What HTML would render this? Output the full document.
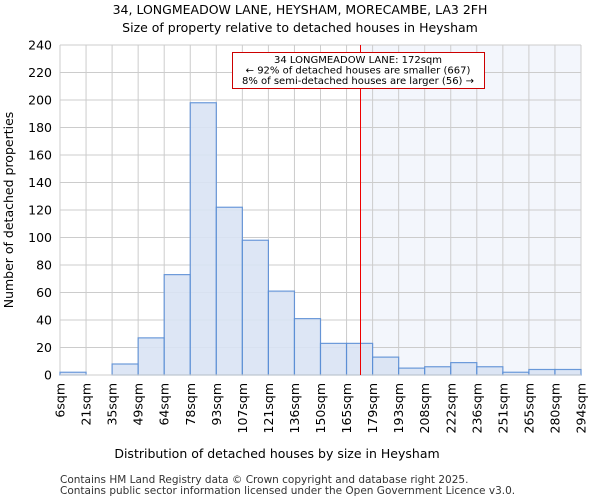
<!DOCTYPE html>
<html><head><meta charset="utf-8"><style>
body{margin:0;background:#fff;font-family:"DejaVu Sans","Liberation Sans",sans-serif}
</style></head><body>
<svg id="c" width="600" height="500" xmlns="http://www.w3.org/2000/svg" font-family="DejaVu Sans, Liberation Sans, sans-serif">
<text x="300" y="14" text-anchor="middle" font-size="12.5">34, LONGMEADOW LANE, HEYSHAM, MORECAMBE, LA3 2FH</text>
<text x="300" y="32" text-anchor="middle" font-size="12.5">Size of property relative to detached houses in Heysham</text>
<g id="plot"></g>
<text x="277" y="458" text-anchor="middle" font-size="12.5">Distribution of detached houses by size in Heysham</text>
<text transform="translate(13,210) rotate(-90)" text-anchor="middle" font-size="12.5">Number of detached properties</text>
<text x="60" y="483" font-size="10.5" fill="#333">Contains HM Land Registry data © Crown copyright and database right 2025.</text>
<text x="60" y="494" font-size="10.5" fill="#333">Contains public sector information licensed under the Open Government Licence v3.0.</text>
</svg>
<script>
const categories=["6sqm","21sqm","35sqm","49sqm","64sqm","78sqm","93sqm","107sqm","121sqm","136sqm","150sqm","165sqm","179sqm","193sqm","208sqm","222sqm","236sqm","251sqm","265sqm","280sqm","294sqm"];
const counts=[2,0,8,27,73,198,122,98,61,41,23,23,13,5,6,9,6,2,4,4];
const yTicks=[0,20,40,60,80,100,120,140,160,180,200,220,240];
const markerIndex=11.5;
const NS="http://www.w3.org/2000/svg";
const L=60,R=581,T=45,B=375,yMax=240;
const bw=(R-L)/counts.length;
const xS=i=>L+i*bw, yS=v=>B-(v/yMax)*(B-T);
const g=document.getElementById('plot');
function mk(t,a){const e=document.createElementNS(NS,t);for(const k in a)e.setAttribute(k,a[k]);g.appendChild(e);return e;}
let e;
const mx=Math.round(xS(markerIndex))+0.5;
e=mk('rect',{x:mx,y:T,width:R-mx,height:B-T,fill:"#eef2fb",opacity:0.7});


yTicks.forEach(v=>{
 e=mk('line',{x1:L,x2:R,y1:yS(v),y2:yS(v),stroke:"#cccccc"});
 
 
 e=mk('text',{x:L-8,y:yS(v)+4.5,"text-anchor":"end","font-size":"12.5"});e.textContent=v;
 
 
});
categories.forEach((c,i)=>{
 e=mk('line',{x1:xS(i),x2:xS(i),y1:T,y2:B,stroke:"#cccccc"});
 
 
 const x=xS(i);
 e=mk('text',{transform:`translate(${x+4.5},${B+8}) rotate(-90)`,"text-anchor":"end","font-size":"12.5"});e.textContent=c;
 
 
});
counts.forEach((v,i)=>{
 e=mk('rect',{x:xS(i),y:yS(v),width:bw,height:B-yS(v),fill:"#dae4f4",opacity:0.9,stroke:"#5b8fd6","stroke-width":1.2});
 
 
});
e=mk('line',{x1:L,x2:R,y1:B,y2:B,stroke:"#cccccc"});


e=mk('line',{x1:mx,x2:mx,y1:T,y2:B,stroke:"#ee0000","stroke-width":1});


e=mk('rect',{x:232.5,y:52.5,width:252,height:36,fill:"#fff",stroke:"#cc0000","stroke-width":1});


["34 LONGMEADOW LANE: 172sqm","← 92% of detached houses are smaller (667)","8% of semi-detached houses are larger (56) →"].forEach((t,k)=>{
 e=mk('text',{x:358,y:63+k*10.5,"text-anchor":"middle","font-size":"10"});e.textContent=t;
 
 
});
</script>
</body></html>
